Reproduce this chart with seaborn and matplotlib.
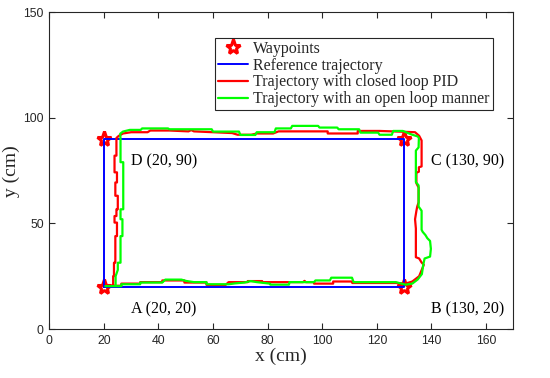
import numpy as np
import pandas as pd
import matplotlib
matplotlib.use("Agg")
import matplotlib.pyplot as plt
from matplotlib.lines import Line2D
import seaborn as sns

# ---------------- data ----------------
waypoint_x = [20, 130, 130, 20]
waypoint_y = [20, 20, 90, 90]
waypoint_labels = ["A (20, 20)", "B (130, 20)", "C (130, 90)", "D (20, 90)"]
label_x = [30, 140, 140, 30]
label_y = [9.3, 9.3, 79.3, 79.3]

ref_x = [20, 130, 130, 20, 20]
ref_y = [20, 20, 90, 90, 20]

pid_x = [21.5, 26.4, 26.4, 33.3, 33.3, 41.4, 41.4, 49.5, 49.5, 57.6, 57.6, 64.6, 65.7, 72.7,
         72.7, 78.0, 78.0, 93.0, 93.5, 94.0, 97.0, 97.0, 104.0, 104.0, 111.0, 111.0, 127.0,
         130.5, 133.0, 135.5, 137.2, 136.4, 135.5, 134.3, 134.3, 134.0, 134.5, 134.8, 135.3,
         135.3, 134.5, 134.5, 135.4, 135.4, 136.4, 136.4, 135.5,
         134.0, 128.0, 121.0, 113.0, 113.0, 102.0, 102.0, 84.0, 82.0, 76.0, 74.0, 69.0, 67.0,
         60.0, 53.0, 52.0, 51.0, 44.0, 37.0, 36.0, 30.0, 27.0, 25.5, 24.6,
         24.6, 23.9, 23.9, 24.8, 24.8, 24.2, 24.2, 25.1, 25.1, 24.6, 24.6, 23.9, 23.9, 24.8,
         24.8, 24.2, 24.2, 23.7, 23.7, 23.4, 23.4]
pid_y = [20.5, 20.5, 21.5, 21.5, 22.2, 22.2, 23.0, 23.0, 22.0, 22.0, 20.9, 20.9, 22.2, 22.2,
         22.7, 22.7, 22.2, 22.2, 22.8, 22.2, 22.2, 21.5, 21.5, 22.5, 22.5, 21.8, 21.8,
         21.5, 22.5, 25.0, 30.4, 31.5, 33.4, 34.0, 47.6, 52.0, 56.0, 58.0, 60.0,
         67.0, 69.0, 74.0, 74.5, 76.6, 77.0, 89.3, 91.5,
         93.2, 93.5, 93.8, 93.8, 92.6, 92.6, 93.6, 93.6, 92.6, 92.6, 92.0, 92.0, 92.8,
         93.2, 93.6, 94.2, 93.6, 94.0, 94.0, 93.2, 93.2, 92.6, 91.5, 90.5,
         82.1, 82.1, 74.2, 74.2, 69.4, 69.4, 63.1, 63.1, 56.7, 56.7, 53.5, 53.5, 50.4, 50.4,
         44.0, 44.0, 31.4, 31.4, 25.0, 25.0, 21.0]

open_x = [20.5, 26.4, 26.4, 33.3, 33.3, 41.4, 42.5, 48.4, 50.0, 53.0, 57.6, 57.6, 65.7, 68.0,
          71.5, 73.8, 76.0, 80.8, 81.0, 87.8, 88.0, 97.0, 97.5, 102.8, 103.3, 110.9, 111.5,
          127.0, 130.5, 133.0, 135.0, 136.5, 137.0, 137.5, 139.5, 139.8, 139.5, 138.5, 137.8,
          136.8, 136.4, 136.4, 135.3, 135.3, 134.3, 134.3, 135.3, 135.4, 135.0,
          133.0, 129.5, 126.0, 125.5, 121.0, 120.5, 114.0, 113.5, 106.0, 105.5, 99.0, 98.5,
          89.0, 88.5, 83.0, 82.5, 76.0, 75.5, 70.0, 69.5, 60.0, 59.5, 44.0, 43.5, 34.0, 33.5,
          29.5, 27.0, 26.0, 26.1, 26.1, 27.1, 27.1, 26.1, 26.1, 26.8, 26.8, 26.1, 26.1, 25.1,
          25.1, 24.3, 24.3]
open_y = [20.3, 20.3, 21.2, 21.2, 22.0, 22.0, 23.4, 23.4, 22.8, 22.2, 22.2, 21.2, 21.2, 21.6,
          22.0, 22.7, 22.2, 21.5, 21.0, 21.0, 22.2, 22.2, 23.0, 23.0, 24.3, 24.3, 22.2,
          22.2, 21.0, 21.5, 23.5, 26.0, 30.4, 33.4, 34.3, 38.0, 41.7, 43.0, 44.5,
          46.0, 47.0, 56.0, 58.0, 68.0, 69.6, 84.5, 86.0, 90.5, 91.2,
          92.0, 93.8, 93.8, 92.0, 92.0, 93.0, 93.0, 94.6, 94.6, 95.4, 95.4, 96.2,
          96.2, 95.0, 95.0, 93.2, 93.2, 91.9, 91.9, 93.5, 93.5, 94.6, 94.6, 95.0, 95.0, 94.3,
          94.3, 93.5, 92.5, 90.0, 79.0, 79.0, 56.7, 56.7, 52.0, 52.0, 44.0, 44.0, 31.4, 31.4,
          28.0, 25.0, 20.5]

legend_labels = ["Waypoints", "Reference trajectory",
                 "Trajectory with closed loop PID",
                 "Trajectory with an open loop manner"]

x_ticks = [0, 20, 40, 60, 80, 100, 120, 140, 160]
y_ticks = [0, 50, 100, 150]

# ---------------- style ----------------
sns.set_theme(style="ticks")
plt.rcParams["font.family"] = ["Liberation Sans", "DejaVu Sans"]
SERIF = ["Liberation Serif", "DejaVu Serif"]
AX_COL = "#262626"

fig = plt.figure(figsize=(5.5, 3.78), dpi=100)
ax = fig.add_axes([0.0896, 0.1296, 0.8437, 0.8379])

STAR = dict(marker="*", markersize=11, markerfacecolor="none",
            markeredgecolor="#ff0000", markeredgewidth=2.2)

# waypoints
sns.lineplot(x=waypoint_x, y=waypoint_y, sort=False, estimator=None, ax=ax,
             linestyle="none", color="#ff0000", zorder=3, **STAR)
# reference
sns.lineplot(x=ref_x, y=ref_y, sort=False, estimator=None, ax=ax,
             color="#0000ff", linewidth=1.4, zorder=4)
# closed loop PID
sns.lineplot(x=pid_x, y=pid_y, sort=False, estimator=None, ax=ax,
             color="#ff0000", linewidth=1.6, zorder=5)
# open loop
sns.lineplot(x=open_x, y=open_y, sort=False, estimator=None, ax=ax,
             color="#00ff00", linewidth=1.6, zorder=6)

for lx, ly, lt in zip(label_x, label_y, waypoint_labels):
    ax.text(lx, ly, lt, ha="left", va="center", fontsize=11.5, family=SERIF,
            color="black")

ax.set_xlim(0, 170)
ax.set_ylim(0, 150)
ax.set_xticks(x_ticks)
ax.set_yticks(y_ticks)
ax.set_xticklabels([str(t) for t in x_ticks])
ax.set_yticklabels([str(t) for t in y_ticks])
ax.tick_params(direction="in", top=True, right=True, length=4, width=0.8,
               colors=AX_COL, labelsize=8.8, pad=4)
for s in ax.spines.values():
    s.set_color(AX_COL)
    s.set_linewidth(0.8)
ax.grid(False)

ax.set_xlabel("x (cm)", family=SERIF, fontsize=14, color=AX_COL, labelpad=1)
ax.set_ylabel("y (cm)", family=SERIF, fontsize=14, color=AX_COL, labelpad=2)

handles = [
    Line2D([], [], linestyle="none", **STAR),
    Line2D([], [], color="#0000ff", linewidth=1.4),
    Line2D([], [], color="#ff0000", linewidth=1.6),
    Line2D([], [], color="#00ff00", linewidth=1.6),
]
leg = ax.legend(handles, legend_labels, loc="upper left",
                bbox_to_anchor=(0.357, 0.92), borderaxespad=0,
                frameon=True, fancybox=False, framealpha=1,
                edgecolor=AX_COL, borderpad=0.2, labelspacing=0.05,
                handlelength=1.9, handletextpad=0.3,
                prop={"family": SERIF, "size": 11.5})
leg.get_frame().set_linewidth(0.8)

fig.savefig("out.png", dpi=100)
